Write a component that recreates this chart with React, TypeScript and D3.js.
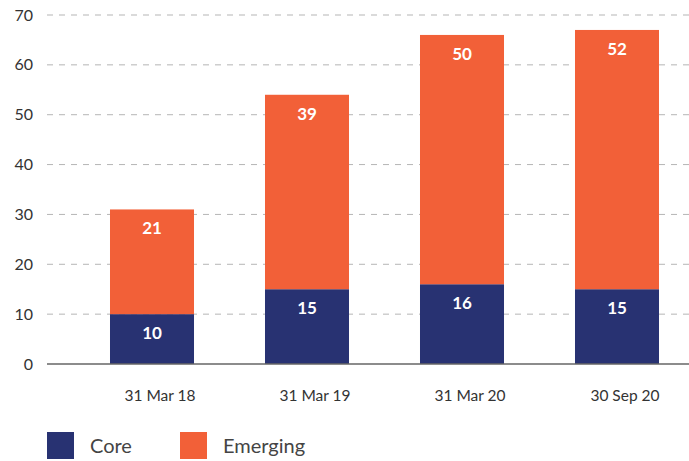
import React from "react";
import * as d3 from "d3";

const categories = ["31 Mar 18", "31 Mar 19", "31 Mar 20", "30 Sep 20"];
const coreValues = [10, 15, 16, 15];
const emergingValues = [21, 39, 50, 52];
const yTicks = [0, 10, 20, 30, 40, 50, 60, 70];
const seriesNames = ["Core", "Emerging"];
const seriesColors = ["#283272", "#F26038"];

const W = 689;
const H = 461;
const FONT = "Lato, 'Open Sans', sans-serif";

export default function App() {
  const y = d3.scaleLinear().domain([0, 70]).range([364, 15]);
  const x = d3
    .scaleBand<string>()
    .domain(categories)
    .range([74.5, 694.5])
    .paddingInner(0.458)
    .paddingOuter(0.229);

  const rows = categories.map((c, i) => ({ cat: c, Core: coreValues[i], Emerging: emergingValues[i] }));
  const stack = d3.stack<any>().keys(seriesNames)(rows);

  return (
    <svg
      width={W}
      height={H}
      style={{ position: "absolute", left: 0, top: 0, background: "#fff" }}
      fontFamily={FONT}
    >
      {yTicks.map((t) => (
        <g key={t}>
          {t !== 0 && (
            <line
              x1={47}
              x2={689}
              y1={y(t)}
              y2={y(t)}
              stroke="#b5b5b5"
              strokeWidth={1}
              strokeDasharray="6,6"
            />
          )}
          <text x={33} y={y(t)} dy="0.35em" textAnchor="end" fontSize={16} fill="#333">
            {t}
          </text>
        </g>
      ))}
      {stack.map((s, si) =>
        s.map((d, i) => {
          const x0 = x(categories[i])!;
          const top = y(d[1]);
          const bottom = y(d[0]);
          const val = si === 0 ? coreValues[i] : emergingValues[i];
          return (
            <g key={`${si}-${i}`}>
              <rect x={x0} y={top} width={x.bandwidth()} height={bottom - top} fill={seriesColors[si]} />
              <text
                x={x0 + x.bandwidth() / 2}
                y={top + 19}
                dy="0.35em"
                textAnchor="middle"
                fontSize={17}
                fontWeight="bold"
                fill="#fff"
              >
                {val}
              </text>
            </g>
          );
        })
      )}
      <line x1={47} x2={689} y1={y(0)} y2={y(0)} stroke="#666" strokeWidth={1.5} />
      {categories.map((c) => (
        <text
          key={c}
          x={x(c)! + x.bandwidth() / 2 + 8}
          y={396}
          dy="0.35em"
          textAnchor="middle"
          fontSize={15.5}
          fill="#333"
        >
          {c}
        </text>
      ))}
      {seriesNames.map((n, i) => {
        const lx = [47, 180][i];
        return (
          <g key={n}>
            <rect x={lx} y={432} width={27} height={27} fill={seriesColors[i]} />
            <text x={lx + 43} y={446} dy="0.35em" fontSize={20} fill="#444">
              {n}
            </text>
          </g>
        );
      })}
    </svg>
  );
}
